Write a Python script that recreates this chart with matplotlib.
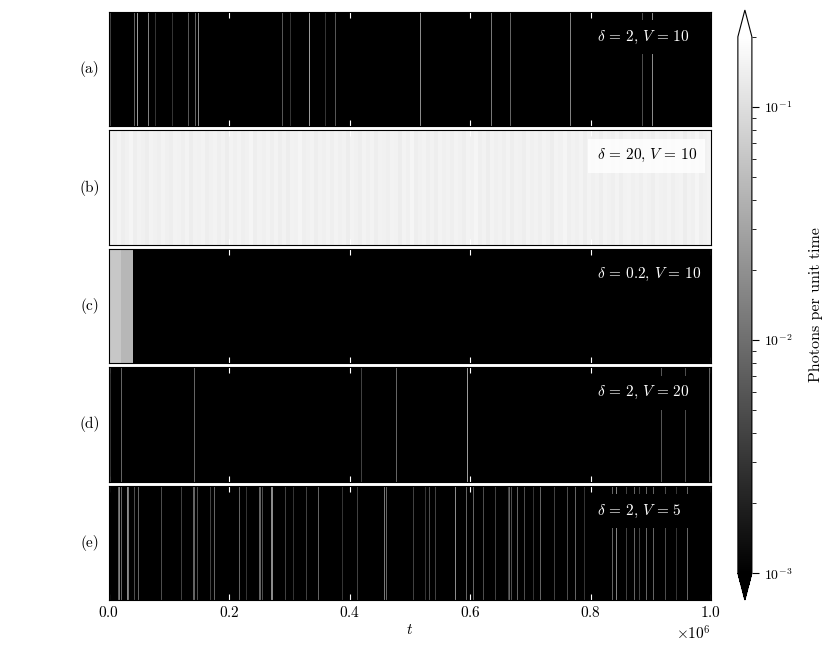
import numpy as np
import matplotlib
matplotlib.use("Agg")
import matplotlib.pyplot as plt
from matplotlib.colors import LogNorm

plt.rcParams["font.family"] = "serif"
plt.rcParams["font.serif"] = ["cmr10"]
plt.rcParams["mathtext.fontset"] = "cm"
plt.rcParams["axes.formatter.use_mathtext"] = True
plt.rcParams["axes.unicode_minus"] = False

# time axis / binning
t_max = 1.0e6
n_bins = 600
background = 1e-4  # below colour range -> black

# panel labels and annotations
panel_labels = ["(a)", "(b)", "(c)", "(d)", "(e)"]
panel_texts = [r"$\delta\,=\,2,\,V\,=\,10$", r"$\delta\,=\,20,\,V\,=\,10$",
               r"$\delta\,=\,0.2,\,V\,=\,10$", r"$\delta\,=\,2,\,V\,=\,20$",
               r"$\delta\,=\,2,\,V\,=\,5$"]

# (a) spikes: time (x1e6), rate
a_t = [0.003, 0.042, 0.047, 0.066, 0.077, 0.106, 0.132, 0.144, 0.149, 0.288,
       0.301, 0.332, 0.359, 0.375, 0.518, 0.635, 0.667, 0.765, 0.885, 0.903]
a_r = [0.004, 0.008, 0.025, 0.015, 0.003, 0.003, 0.006, 0.008, 0.018, 0.006,
       0.003, 0.025, 0.003, 0.006, 0.018, 0.012, 0.008, 0.015, 0.005, 0.018]

# (b) almost uniform high rate
b_rates = [0.150, 0.142, 0.155, 0.138, 0.148, 0.160, 0.140, 0.152, 0.145, 0.136,
           0.158, 0.149, 0.141, 0.153, 0.146, 0.139, 0.157, 0.150, 0.143, 0.154,
           0.137, 0.151, 0.147, 0.159, 0.140, 0.149, 0.156, 0.142, 0.150, 0.135,
           0.153, 0.145, 0.158, 0.141, 0.148, 0.162, 0.139, 0.151, 0.146, 0.155,
           0.143, 0.157, 0.140, 0.150, 0.137, 0.152, 0.147, 0.160, 0.142, 0.149,
           0.155, 0.138, 0.151, 0.146, 0.158, 0.141, 0.153, 0.144, 0.150, 0.136,
           0.156, 0.148, 0.140, 0.154, 0.145, 0.159, 0.139, 0.151, 0.147, 0.142,
           0.157, 0.150, 0.137, 0.153, 0.146, 0.161, 0.140, 0.149, 0.155, 0.143,
           0.152, 0.138, 0.158, 0.145, 0.150, 0.141, 0.156, 0.147, 0.139, 0.154,
           0.148, 0.160, 0.142, 0.151, 0.136, 0.155, 0.146, 0.150, 0.143, 0.157,
           0.140, 0.152, 0.148, 0.138, 0.159, 0.145, 0.151, 0.142, 0.156, 0.149,
           0.137, 0.154, 0.147, 0.160, 0.141, 0.150, 0.145, 0.153, 0.139, 0.155,
           0.146, 0.151, 0.140, 0.157, 0.148, 0.143, 0.154, 0.138, 0.150, 0.159,
           0.144, 0.152, 0.141, 0.156, 0.147, 0.139, 0.153, 0.149, 0.145, 0.158,
           0.142, 0.150, 0.155, 0.137, 0.151, 0.146, 0.160, 0.143, 0.148, 0.154]

# (c) two early blocks, then dark
c_edges = [0.0, 0.0195, 0.0399]
c_r = [0.062, 0.045]

# (d) spikes
d_t = [0.002, 0.020, 0.142, 0.419, 0.478, 0.596, 0.918, 0.957, 0.997]
d_r = [0.003, 0.008, 0.008, 0.004, 0.008, 0.025, 0.006, 0.005, 0.008]

# (e) spikes
e_t = [0.0155, 0.018, 0.021, 0.031, 0.033, 0.042, 0.049, 0.0875, 0.121, 0.140,
       0.143, 0.148, 0.169, 0.176, 0.218, 0.229, 0.251, 0.254, 0.269, 0.270,
       0.292, 0.305, 0.328, 0.348, 0.387, 0.413, 0.458, 0.461,
       0.506, 0.525, 0.532, 0.542, 0.575, 0.594, 0.606, 0.622, 0.643, 0.664,
       0.666, 0.669, 0.679, 0.691, 0.705, 0.718, 0.741, 0.761, 0.774, 0.789,
       0.835, 0.843, 0.859, 0.872, 0.881, 0.893, 0.904, 0.924, 0.942, 0.960]
e_r = [0.008, 0.015, 0.008, 0.018, 0.012, 0.005, 0.008, 0.005, 0.004, 0.008,
       0.008, 0.005, 0.004, 0.008, 0.008, 0.003, 0.008, 0.005, 0.018, 0.018,
       0.004, 0.003, 0.004, 0.008, 0.003, 0.004, 0.012, 0.008,
       0.004, 0.003, 0.005, 0.004, 0.018, 0.008, 0.008, 0.005, 0.004, 0.004,
       0.008, 0.005, 0.008, 0.005, 0.003, 0.008, 0.004, 0.005, 0.008, 0.003,
       0.008, 0.015, 0.004, 0.008, 0.004, 0.008, 0.008, 0.005, 0.003, 0.008]


def spikes_to_row(times, rates):
    row = np.full(n_bins, background)
    for t, r in zip(times, rates):
        i = min(int(t * n_bins), n_bins - 1)
        row[i] = r
    return row


def blocks_to_row(edges, rates):
    row = np.full(n_bins, background)
    for lo, hi, r in zip(edges[:-1], edges[1:], rates):
        row[int(round(lo * n_bins)):int(round(hi * n_bins))] = r
    return row


rows = [
    spikes_to_row(a_t, a_r),
    np.repeat(b_rates, n_bins // len(b_rates)),
    blocks_to_row(c_edges, c_r),
    spikes_to_row(d_t, d_r),
    spikes_to_row(e_t, e_r),
]

norm = LogNorm(vmin=1e-3, vmax=0.2)
cmap = plt.get_cmap("gray")

fig, axes = plt.subplots(5, 1, figsize=(8.3, 6.5), dpi=100, sharex=True)
fig.subplots_adjust(left=0.1313, right=0.8566, top=0.9815, bottom=0.0769,
                    hspace=0.038)

for k, ax in enumerate(axes):
    im = ax.imshow(rows[k][np.newaxis, :], aspect="auto", cmap=cmap, norm=norm,
                   extent=[0, t_max, 0, 1], interpolation="nearest")
    ax.set_xlim(0, t_max)
    ax.set_yticks([])
    ax.tick_params(axis="x", direction="in", top=True, bottom=True,
                   color="white", length=4, labelsize=11)
    ax.text(-0.032, 0.5, panel_labels[k], transform=ax.transAxes,
            ha="center", va="center", fontsize=11)
    dark_bg = k != 1
    ax.text(0.81, 0.78, panel_texts[k], transform=ax.transAxes,
            ha="left", va="center", fontsize=11, clip_on=True,
            color="white" if dark_bg else "black",
            bbox=dict(facecolor="black" if dark_bg else "white",
                      alpha=1.0 if dark_bg else 0.8,
                      edgecolor="none", pad=6))

axes[-1].set_xlabel(r"$t$", fontsize=11, labelpad=2)
axes[-1].set_xticks([0, 0.2e6, 0.4e6, 0.6e6, 0.8e6, 1.0e6])
axes[-1].xaxis.get_offset_text().set_fontsize(11)

cax = fig.add_axes([0.889, 0.0769, 0.0169, 0.9077])
cb = fig.colorbar(im, cax=cax, extend="both")
cb.set_label("Photons per unit time", fontsize=11.5, labelpad=12)
cb.ax.tick_params(labelsize=10)
cb.ax.tick_params(which="major", length=5)
cb.ax.tick_params(which="minor", length=3)

fig.savefig("out.png", dpi=100)
